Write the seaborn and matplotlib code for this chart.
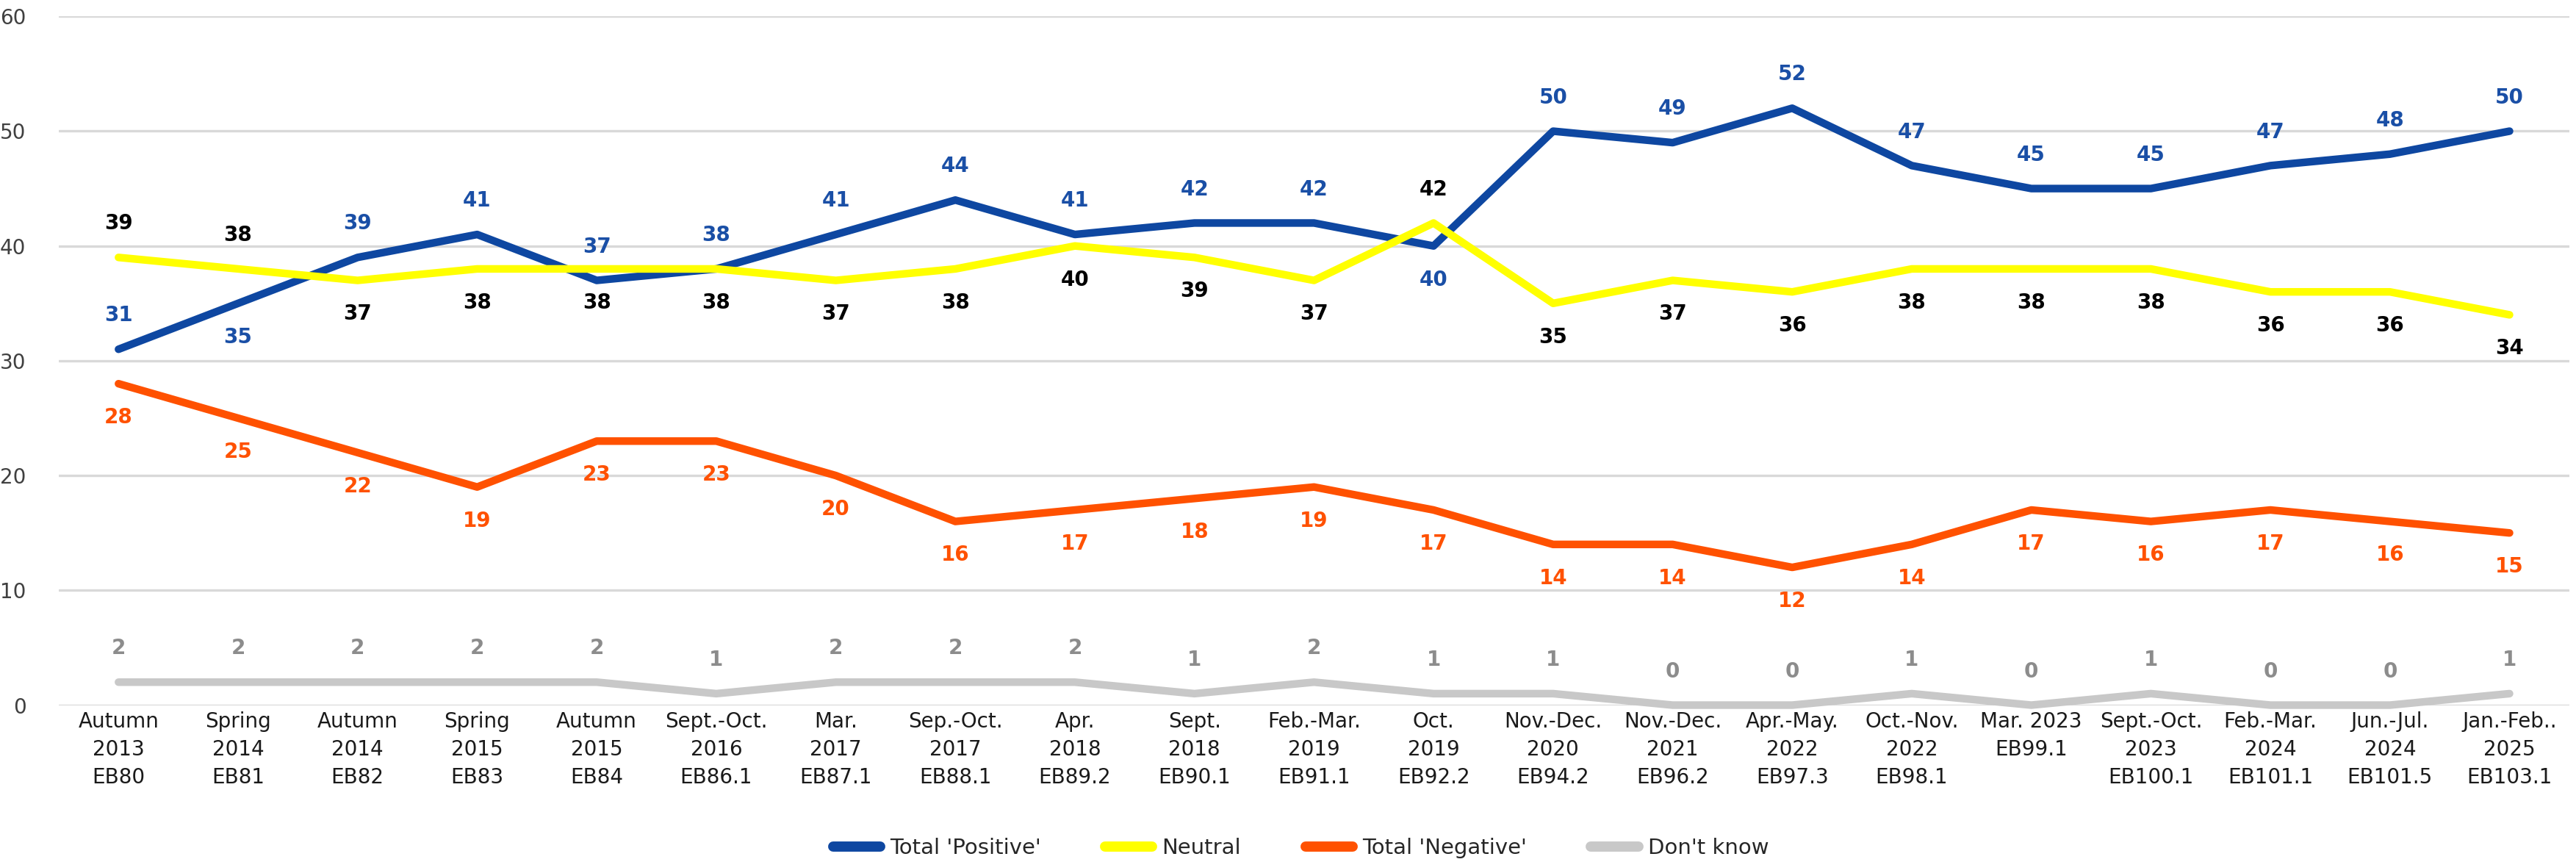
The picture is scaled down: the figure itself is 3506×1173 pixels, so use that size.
import numpy as np
import pandas as pd
import matplotlib
matplotlib.use("Agg")
import matplotlib.pyplot as plt
import seaborn as sns
from matplotlib.lines import Line2D

# ---------------- data ----------------
categories = [
    "Autumn\n2013\nEB80", "Spring\n2014\nEB81", "Autumn\n2014\nEB82", "Spring\n2015\nEB83",
    "Autumn\n2015\nEB84", "Sept.-Oct.\n2016\nEB86.1", "Mar.\n2017\nEB87.1",
    "Sep.-Oct.\n2017\nEB88.1", "Apr.\n2018\nEB89.2", "Sept.\n2018\nEB90.1",
    "Feb.-Mar.\n2019\nEB91.1", "Oct.\n2019\nEB92.2", "Nov.-Dec.\n2020\nEB94.2",
    "Nov.-Dec.\n2021\nEB96.2", "Apr.-May.\n2022\nEB97.3", "Oct.-Nov.\n2022\nEB98.1",
    "Mar. 2023\nEB99.1\n", "Sept.-Oct.\n2023\nEB100.1", "Feb.-Mar.\n2024\nEB101.1",
    "Jun.-Jul.\n2024\nEB101.5", "Jan.-Feb..\n2025\nEB103.1",
]
positive = [31, 35, 39, 41, 37, 38, 41, 44, 41, 42, 42, 40, 50, 49, 52, 47, 45, 45, 47, 48, 50]
neutral = [39, 38, 37, 38, 38, 38, 37, 38, 40, 39, 37, 42, 35, 37, 36, 38, 38, 38, 36, 36, 34]
negative = [28, 25, 22, 19, 23, 23, 20, 16, 17, 18, 19, 17, 14, 14, 12, 14, 17, 16, 17, 16, 15]
dont_know = [2, 2, 2, 2, 2, 1, 2, 2, 2, 1, 2, 1, 1, 0, 0, 1, 0, 1, 0, 0, 1]
series_names = ["Total 'Positive'", "Neutral", "Total 'Negative'", "Don't know"]
y_ticks = [0, 10, 20, 30, 40, 50, 60]

# label placement (+1 above, -1 below)
pos_side = [1, -1, 1, 1, 1, 1, 1, 1, 1, 1, 1, -1, 1, 1, 1, 1, 1, 1, 1, 1, 1]
neu_side = [1, 1, -1, -1, -1, -1, -1, -1, -1, -1, -1, 1, -1, -1, -1, -1, -1, -1, -1, -1, -1]
neg_side = [-1] * 21
dk_side = [1] * 21

line_colors = {"Total 'Positive'": "#0E47A1", "Neutral": "#FFFF00",
               "Total 'Negative'": "#FF5100", "Don't know": "#C8C8C8"}
label_colors = {"Total 'Positive'": "#1A4FA6", "Neutral": "#000000",
                "Total 'Negative'": "#FF5100", "Don't know": "#8C8C8C"}

values = {"Total 'Positive'": positive, "Neutral": neutral,
          "Total 'Negative'": negative, "Don't know": dont_know}
sides = {"Total 'Positive'": pos_side, "Neutral": neu_side,
         "Total 'Negative'": neg_side, "Don't know": dk_side}

df = pd.concat([
    pd.DataFrame({"period": categories, "value": values[s], "series": s})
    for s in series_names
], ignore_index=True)

# ---------------- plot ----------------
sns.set_theme(style="white")
plt.rcParams["font.family"] = ["DejaVu Sans"]

fig = plt.figure(figsize=(35.06, 11.73), dpi=100)
ax = fig.add_axes([0.0228, 0.182, 0.9746, 0.799])

sns.lineplot(data=df, x="period", y="value", hue="series", hue_order=series_names,
             palette=line_colors, linewidth=7.5, sort=False, legend=False, ax=ax)
for ln in ax.get_lines():
    ln.set_solid_capstyle("round")
    ln.set_solid_joinstyle("round")
    ln.set_clip_on(False)

ax.set_ylim(0, 60)
ax.set_xlim(-0.5, len(categories) - 0.5)
ax.set_yticks(y_ticks)
ax.yaxis.grid(True, color="#D9D9D9", linewidth=2.4)
ax.xaxis.grid(False)
ax.set_axisbelow(True)
for sp in ax.spines.values():
    sp.set_visible(False)
ax.set_xlabel("")
ax.set_ylabel("")
ax.tick_params(axis="x", length=0, pad=6, labelsize=20, labelcolor="#1A1A1A")
ax.tick_params(axis="y", length=0, pad=32, labelsize=20, labelcolor="#404040")
for t in ax.get_xticklabels():
    t.set_linespacing(1.45)

# data labels
for s in series_names:
    for i, v in enumerate(values[s]):
        ax.annotate(str(v), (i, v), xytext=(0, 33 * sides[s][i]), textcoords="offset points",
                    ha="center", va="center", fontsize=20, fontweight="bold",
                    color=label_colors[s], annotation_clip=False)

handles = [Line2D([0], [0], color=line_colors[s], linewidth=10, solid_capstyle="round")
           for s in series_names]
fig.legend(handles, series_names, loc="center", bbox_to_anchor=(0.505, 0.016), ncol=4,
           frameon=False, fontsize=21, handlelength=2.2, handletextpad=0.45,
           columnspacing=3.0)

fig.savefig("out.png", dpi=100)
